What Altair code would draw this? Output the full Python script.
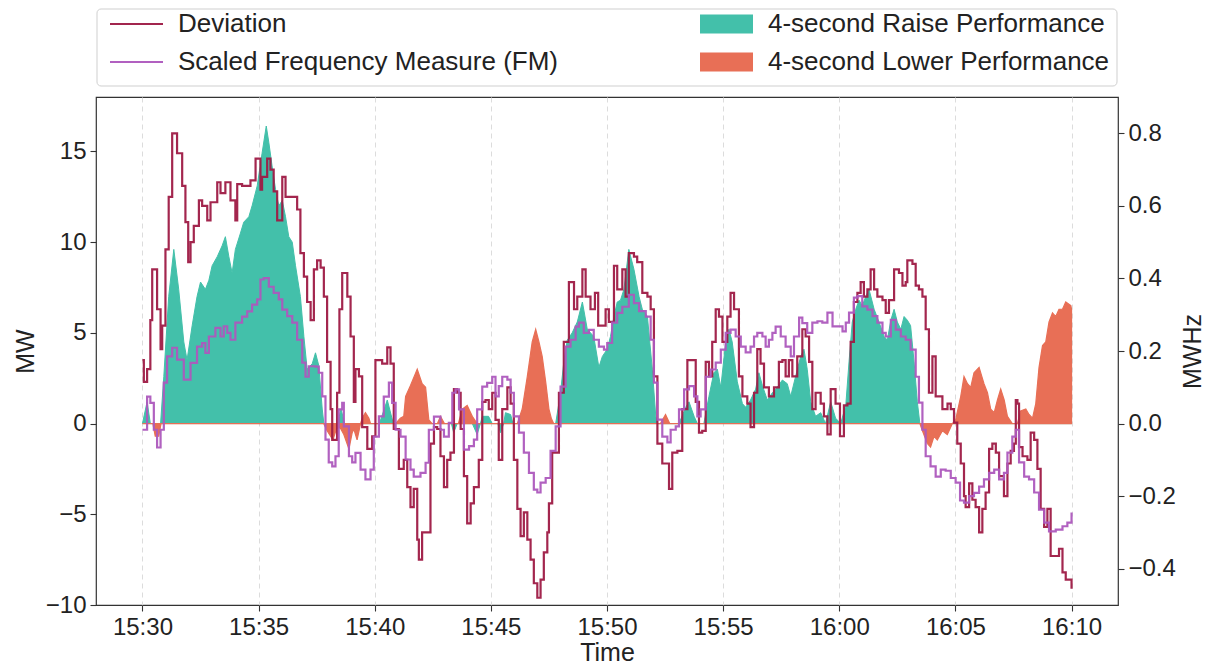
import altair as alt
import pandas as pd

# ---------------- data (minutes after 15:30) ----------------
dev_t = [0.0, 0.06, 0.2, 0.34, 0.42, 0.49, 0.63, 0.78, 0.85, 0.99, 1.13, 1.28, 1.42, 1.49, 1.71, 1.85,
         1.97, 2.07, 2.21, 2.43, 2.57, 2.79, 2.93, 3.22, 3.36, 3.57, 3.79, 4.0, 4.08, 4.29, 4.65, 4.87,
         5.08, 5.15, 5.37, 5.51, 5.65, 5.8, 6.02, 6.16, 6.45, 6.66, 6.8, 6.95, 7.09, 7.24, 7.38, 7.52,
         7.67, 7.81, 7.95, 8.1, 8.17, 8.31, 8.38, 8.48, 8.6, 8.67, 8.82, 8.96, 9.1, 9.17, 9.32, 9.46,
         9.68, 9.89, 10.03, 10.32, 10.54, 10.68, 10.82, 11.04, 11.25, 11.4, 11.54, 11.68, 11.83, 11.9,
         12.04, 12.23, 12.4, 12.55, 12.69, 12.83, 12.98, 13.12, 13.26, 13.41, 13.55, 13.7, 13.84, 13.98,
         14.13, 14.27, 14.48, 14.63, 14.77, 14.91, 15.06, 15.2, 15.34, 15.49, 15.71, 15.85, 15.99, 16.14,
         16.28, 16.42, 16.57, 16.71, 16.85, 17.0, 17.14, 17.28, 17.43, 17.5, 17.64, 17.79, 17.93, 18.14,
         18.36, 18.51, 18.58, 18.72, 18.94, 19.08, 19.29, 19.48, 19.62, 19.8, 19.94, 20.08, 20.3, 20.44,
         20.66, 20.8, 20.94, 21.16, 21.3, 21.52, 21.74, 21.88, 22.02, 22.17, 22.38, 22.67, 22.81, 23.03,
         23.24, 23.46, 23.67, 23.82, 23.96, 24.1, 24.25, 24.39, 24.53, 24.68, 24.82, 24.97, 25.18, 25.32,
         25.47, 25.68, 25.83, 26.04, 26.18, 26.33, 26.47, 26.61, 26.76, 26.97, 27.19, 27.4, 27.55, 27.69,
         27.83, 27.98, 28.19, 28.41, 28.55, 28.7, 28.84, 28.98, 29.2, 29.34, 29.49, 29.63, 29.84, 30.03,
         30.2, 30.35, 30.49, 30.63, 30.78, 30.92, 31.06, 31.21, 31.35, 31.5, 31.64, 31.86, 32.0, 32.14,
         32.36, 32.57, 32.72, 32.86, 32.93, 33.15, 33.29, 33.43, 33.58, 33.72, 33.86, 34.01, 34.15, 34.29,
         34.44, 34.66, 34.8, 34.94, 35.08, 35.23, 35.37, 35.44, 35.59, 35.73, 35.87, 36.02, 36.16, 36.3,
         36.45, 36.59, 36.74, 36.88, 37.09, 37.24, 37.38, 37.52, 37.6, 37.67, 37.74, 37.89, 38.1, 38.24,
         38.39, 38.53, 38.67, 38.82, 38.96, 39.1, 39.32, 39.46, 39.61, 39.75, 40.0]
dev_v = [3.5, 2.3, 3.0, 5.7, 8.5, 8.5, 6.3, 4.1, 5.4, 9.6, 12.5, 16.0, 16.0, 14.9, 13.1, 11.1,
         8.9, 10.0, 10.9, 12.3, 12.0, 11.2, 12.2, 13.3, 12.7, 13.3, 12.3, 11.2, 13.2, 13.1, 13.4, 14.6,
         12.9, 13.6, 14.6, 14.0, 12.8, 11.2, 13.6, 12.5, 12.5, 11.8, 9.4, 8.1, 6.7, 5.7, 8.5, 9.0,
         8.6, 7.0, 3.4, 0.8, -0.9, -0.9, 1.7, 6.3, 8.3, 8.3, 7.0, 4.8, 1.2, 3.0, 2.6, -0.2,
         -1.4, -0.7, 3.5, 3.3, 4.2, 3.3, -0.3, -2.5, -2.0, -3.5, -4.6, -3.6, -6.4, -7.5,
         -6.0, -6.0, -1.1, -0.2, -0.3, -1.8, -3.5, -2.0, -1.6, 1.9, 1.7, -0.3, -2.9, -5.5,
         -4.4, -3.5, -2.0, 1.2, 1.3, 0.8, 1.7, 0.2, -2.0, 0.8, 2.0, 1.1, -2.0, -4.7,
         -6.2, -4.9, -6.4, -7.5, -8.8, -9.6, -8.6, -7.1, -6.0, -4.4, -1.6, -1.6, 1.7, 4.5,
         7.8, 7.8, 6.3, 7.0, 8.5, 7.0, 6.3, 7.2, 5.4, 5.4, 6.3, 5.6, 8.7, 7.4,
         8.5, 7.0, 9.4, 9.2, 8.9, 7.2, 7.0, 6.3, 2.6, -1.1, -2.2, -3.6, -1.6, -1.5,
         0.8, 3.5, 3.5, 1.2, -0.5, -0.4, 3.4, 2.6, 4.5, 6.3, 5.9, 4.5, 5.9, 7.2,
         6.3, 2.6, 1.5, 1.1, -0.2, 1.7, 4.1, 3.3, 2.0, 1.5, 2.0, 3.4, 3.5, 2.6,
         3.5, 2.6, 3.7, 5.2, 4.8, 3.4, 0.8, 1.7, 1.1, 0.4, -0.6, 1.9, 1.1, -0.7,
         1.0, 1.1, 4.5, 6.7, 7.2, 7.8, 7.0, 7.4, 8.5, 7.4, 7.0, 6.8, 6.1, 6.8,
         8.5, 8.3, 7.6, 7.8, 9.0, 8.8, 7.6, 7.4, 7.0, 5.2, 1.7, 3.7, 1.5, 1.5,
         0.8, 1.1, 0.8, 0.05, -1.1, -2.2, -4.0, -4.6, -3.3, -4.2, -4.6, -6.0, -4.7, -3.8,
         -1.4, -1.1, -1.6, -2.9, -4.0, -2.2, -1.5, -1.1, 1.3, 1.1, -1.3, -1.8, -2.0, -0.5,
         -0.9, -2.5, -4.7, -5.7, -4.7, -7.3, -7.3, -6.9, -8.2, -8.6, -9.1]

fm_t = [0.0, 0.2, 0.34, 0.49, 0.63, 0.78, 0.92, 1.06, 1.28, 1.49, 1.78, 2.07, 2.35, 2.57, 2.71, 2.86,
        3.14, 3.36, 3.5, 3.65, 3.79, 4.0, 4.29, 4.51, 4.72, 4.94, 5.08, 5.22, 5.44, 5.65, 5.87, 6.02,
        6.23, 6.45, 6.66, 6.88, 7.02, 7.16, 7.45, 7.59, 7.74, 7.88, 8.02, 8.17, 8.31, 8.45, 8.6, 8.67,
        8.89, 9.03, 9.17, 9.39, 9.6, 9.82, 9.96, 10.18, 10.39, 10.61, 10.75, 10.9, 11.11, 11.33, 11.54,
        11.68, 11.97, 12.19, 12.33, 12.55, 12.69, 12.83, 12.98, 13.19, 13.34, 13.48, 13.63, 13.84, 14.06,
        14.27, 14.41, 14.63, 14.84, 15.06, 15.2, 15.34, 15.49, 15.71, 15.85, 15.99, 16.21, 16.42, 16.64,
        16.85, 17.0, 17.14, 17.36, 17.57, 17.79, 18.0, 18.22, 18.43, 18.65, 18.79, 19.0, 19.22, 19.43,
        19.65, 19.87, 20.01, 20.22, 20.44, 20.66, 20.94, 21.16, 21.38, 21.67, 21.88, 22.02, 22.17, 22.38,
        22.6, 22.74, 22.96, 23.1, 23.32, 23.53, 23.75, 23.89, 24.03, 24.25, 24.46, 24.68, 24.9, 25.11,
        25.32, 25.54, 25.76, 25.97, 26.18, 26.33, 26.47, 26.69, 26.83, 26.97, 27.12, 27.26, 27.48, 27.69,
        27.91, 28.05, 28.27, 28.41, 28.62, 28.84, 29.06, 29.27, 29.49, 29.71, 29.92, 30.14, 30.28, 30.42,
        30.63, 30.78, 30.99, 31.21, 31.43, 31.64, 31.86, 32.0, 32.22, 32.43, 32.65, 32.86, 33.07, 33.29,
        33.43, 33.58, 33.72, 33.93, 34.15, 34.37, 34.58, 34.8, 35.01, 35.2, 35.37, 35.59, 35.8, 36.02,
        36.23, 36.45, 36.67, 36.88, 37.09, 37.24, 37.45, 37.6, 37.74, 37.96, 38.17, 38.39, 38.6, 38.82,
        39.03, 39.32, 39.61, 39.82, 40.0]
fm_v = [-0.017, 0.074, 0.057, -0.017, -0.066, -0.017, 0.113, 0.185, 0.209, 0.176, 0.121, 0.167, 0.212,
        0.222, 0.195, 0.24, 0.264, 0.24, 0.268, 0.25, 0.231, 0.278, 0.295, 0.309, 0.328, 0.342, 0.397,
        0.401, 0.377, 0.36, 0.342, 0.314, 0.296, 0.278, 0.231, 0.168, 0.129, 0.158, 0.157, 0.14, 0.075,
        -0.044, -0.107, -0.118, -0.09, 0.039, 0.057, -0.008, -0.09, -0.107, -0.081, -0.127, -0.154,
        -0.127, -0.036, 0.02, 0.074, 0.113, 0.057, -0.017, -0.036, -0.099, -0.127, -0.146, -0.136,
        -0.108, -0.017, 0.019, 0.019, -0.017, -0.036, 0.002, 0.085, 0.094, 0.039, -0.072, -0.062,
        -0.044, 0.039, 0.102, 0.112, 0.129, 0.075, 0.103, 0.129, 0.121, 0.085, 0.02, -0.025, -0.08,
        -0.136, -0.182, -0.19, -0.163, -0.15, -0.075, -0.008, 0.102, 0.212, 0.231, 0.267, 0.278, 0.25,
        0.258, 0.231, 0.212, 0.204, 0.222, 0.278, 0.305, 0.322, 0.355, 0.332, 0.31, 0.295, 0.231, 0.113,
        0.011, -0.036, -0.052, -0.017, -0.008, 0.039, 0.094, 0.103, 0.075, 0.02, 0.039, 0.129, 0.149,
        0.168, 0.204, 0.25, 0.259, 0.24, 0.212, 0.196, 0.212, 0.24, 0.25, 0.24, 0.212, 0.231, 0.25,
        0.267, 0.24, 0.212, 0.185, 0.24, 0.292, 0.277, 0.25, 0.278, 0.282, 0.278, 0.306, 0.268, 0.268,
        0.254, 0.278, 0.306, 0.347, 0.351, 0.323, 0.314, 0.296, 0.278, 0.25, 0.24, 0.286, 0.259, 0.24,
        0.231, 0.204, 0.129, 0.058, -0.017, -0.09, -0.118, -0.146, -0.127, -0.13, -0.15, -0.163, -0.212,
        -0.218, -0.2, -0.191, -0.174, -0.154, -0.136, -0.127, -0.154, -0.136, -0.08, -0.036, -0.017,
        -0.107, -0.146, -0.154, -0.19, -0.237, -0.273, -0.297, -0.292, -0.283, -0.273, -0.245]

raise_t = [0.0, 0.2, 0.34, 0.78, 0.92, 1.13, 1.35, 1.56, 1.78, 1.92, 2.14, 2.35, 2.5, 2.71, 2.86, 3.0,
           3.22, 3.43, 3.57, 3.72, 3.86, 4.0, 4.22, 4.36, 4.58, 4.72, 4.94, 5.15, 5.33, 5.44, 5.58, 5.73,
           5.87, 6.02, 6.16, 6.3, 6.45, 6.59, 6.8, 6.95, 7.09, 7.31, 7.45, 7.59, 7.74, 7.81, 8.4, 8.55,
           8.7, 10.2, 10.54, 10.8, 13.3, 13.4, 13.55, 14.2, 14.41, 14.55, 14.63, 14.9, 15.06, 15.3, 15.42,
           15.55, 15.63, 15.85, 15.95, 17.79, 18.0, 18.15, 18.29, 18.5, 18.72, 18.94, 19.15, 19.43, 19.65,
           19.8, 20.01, 20.15, 20.3, 20.44, 20.58, 20.73, 20.94, 21.16, 21.38, 21.52, 21.74, 21.95, 22.1,
           22.17, 23.1, 23.39, 23.53, 23.75, 23.89, 24.17, 24.39, 24.6, 24.75, 24.9, 25.11, 25.25, 25.39,
           25.61, 25.83, 25.97, 26.18, 26.4, 26.54, 26.69, 26.9, 27.12, 27.33, 27.55, 27.76, 27.91, 28.12,
           28.34, 28.48, 28.62, 28.77, 28.98, 29.2, 29.41, 29.63, 29.84, 30.06, 30.28, 30.42, 30.56, 30.71,
           30.85, 30.99, 31.14, 31.28, 31.5, 31.71, 31.93, 32.07, 32.22, 32.36, 32.5, 32.65, 32.79, 32.93,
           33.07, 33.22, 33.36, 33.47, 40.0]
raise_v = [0.0, 1.2, 0.0, 0.0, 2.6, 7.0, 9.6, 7.4, 4.5, 3.5, 5.4, 7.0, 7.8, 7.4, 7.9, 8.7,
           9.2, 9.8, 10.3, 9.2, 8.3, 9.6, 10.5, 11.1, 11.4, 12.0, 13.1, 14.9, 16.4, 15.5, 14.2, 12.9,
           12.0, 12.3, 11.4, 10.3, 10.0, 8.7, 7.0, 4.8, 3.0, 3.3, 3.9, 3.2, 0.8, 0.0, 0.0, 0.8,
           0.0, 0.0, 1.3, 0.0, 0.0, -0.5, 0.0, 0.0, -0.6, 0.0, 0.4, 0.4, 0.0, 0.0, -0.5,
           0.0, 0.6, 0.5, 0.0, 0.0, 1.7, 3.5, 4.6, 5.0, 5.6, 6.7, 5.2, 4.8, 3.1,
           3.7, 4.1, 4.8, 5.9, 6.7, 6.8, 7.4, 9.6, 8.5, 7.0, 6.3, 5.9, 3.0, 0.4,
           0.0, 0.0, 0.9, 1.2, 0.4, 0.0, 0.0, 1.5, 2.8, 3.0, 2.0, 4.5, 5.2, 4.5,
           2.3, 1.1, 0.9, 1.3, 1.9, 2.8, 2.1, 1.3, 1.7, 2.0, 2.4, 2.2, 1.5, 2.6,
           3.7, 4.1, 3.0, 1.2, 0.4, 0.6, 0.0, 1.2, 0.3, 0.0, 1.0, 3.4, 5.6, 6.3,
           6.8, 6.5, 7.0, 7.4, 6.3, 5.6, 4.8, 4.6, 5.7, 6.3, 5.6, 5.2, 5.9, 5.7,
           5.4, 3.4, 1.2, 0.0, 0.0]

lower_t = [0.0, 0.45, 0.55, 0.7, 0.8, 7.8, 7.95, 8.2, 8.35, 8.5, 8.67, 8.89, 9.03, 9.1, 9.24, 9.39,
           9.46, 9.6, 9.75, 9.82, 10.9, 11.1, 11.25, 11.33, 11.54, 11.83, 12.04, 12.19, 12.33, 12.47,
           12.7, 12.83, 13.0, 13.6, 13.77, 13.98, 14.2, 14.41, 16.14, 16.35, 16.57, 16.78, 16.93, 17.07,
           17.21, 17.36, 17.5, 17.6, 17.7, 22.3, 22.52, 22.7, 33.47, 33.58, 33.79, 33.93, 34.08, 34.22,
           34.44, 34.65, 34.87, 35.01, 35.23, 35.37, 35.52, 35.66, 35.8, 36.02, 36.23, 36.38, 36.52, 36.67,
           36.81, 36.95, 37.1, 37.24, 37.45, 37.67, 37.81, 38.03, 38.17, 38.32, 38.46, 38.6, 38.75, 38.89,
           39.03, 39.18, 39.32, 39.46, 39.61, 39.75, 39.97, 40.0]
lower_v = [0.0, 0.0, -0.7, -0.7, 0.0, 0.0, -0.4, -0.9, -0.3, -0.2, -0.6, -1.4, -0.5, -0.3, -0.9, 0.0,
           0.3, 0.6, 0.3, 0.0, 0.0, 0.3, 0.4, 1.5, 2.1, 3.0, 2.2, 2.0, 0.2, 0.0,
           0.0, 0.4, 0.0, 0.0, 0.8, 1.0, 0.4, 0.0, 0.0, 0.8, 2.6, 4.5, 5.2, 4.5,
           3.7, 2.3, 0.8, 0.3, 0.0, 0.0, 0.5, 0.0, 0.0, -0.4, -1.1, -1.3, -0.7, -0.9,
           -0.4, -0.6, 0.0, 0.2, 1.5, 2.6, 2.2, 2.0, 2.8, 3.1, 2.2, 1.7, 0.8, 0.6,
           1.3, 1.9, 1.3, 0.4, 0.0, 0.0, 0.7, 0.8, 0.5, 0.3, 1.1, 3.1, 4.3, 4.5,
           5.6, 6.1, 5.9, 6.3, 6.3, 6.7, 6.5, 6.3]

x_ticks = [0, 5, 10, 15, 20, 25, 30, 35, 40]
x_tick_labels = ["15:30", "15:35", "15:40", "15:45", "15:50", "15:55", "16:00", "16:05", "16:10"]
left_ticks = [-10, -5, 0, 5, 10, 15]
right_ticks = [-0.4, -0.2, 0.0, 0.2, 0.4, 0.6, 0.8]

DEV = "Deviation"
FM = "Scaled Frequency Measure (FM)"
RAISE = "4-second Raise Performance"
LOWER = "4-second Lower Performance"

C_DEV = "#9e1a45"
C_FM = "#ad58bd"
C_RAISE = "#43c0aa"
C_LOWER = "#e86f56"

dev_df = pd.DataFrame({"t": dev_t, "v": dev_v, "series": DEV})
fm_df = pd.DataFrame({"t": fm_t, "v": fm_v, "series": FM})
raise_df = pd.DataFrame({"t": raise_t, "v": raise_v, "series": RAISE})
lower_df = pd.DataFrame({"t": lower_t, "v": lower_v, "series": LOWER})

FONT = "Liberation Sans"
W, H = 1022, 508
TICK_FS = 24
TITLE_FS = 25
LEG_FS = 26

label_expr = "[" + ",".join("'%s'" % s for s in x_tick_labels) + "][round(datum.value / 5)]"

x_enc = alt.X(
    "t:Q",
    scale=alt.Scale(domain=[-2, 42], nice=False, zero=False),
    axis=alt.Axis(values=x_ticks, labelExpr=label_expr, title="Time", grid=True,
                  gridDash=[5, 4], gridColor="#dcdcdc", gridWidth=1,
                  titleX=W / 2, titleY=47, titleBaseline="middle"),
)

y_left = alt.Y(
    "v:Q",
    scale=alt.Scale(domain=[-10, 18], nice=False, zero=False),
    axis=alt.Axis(values=left_ticks, title="MW", grid=False, orient="left",
                  titleX=-71, titleY=H / 2, titleAngle=-90, titleAlign="center",
                  titleBaseline="middle"),
)

y_right = alt.Y(
    "v:Q",
    scale=alt.Scale(domain=[-0.5, 0.9], nice=False, zero=False),
    axis=alt.Axis(values=right_ticks, format=".1f", title="MWHz", grid=False, orient="right",
                  titleX=74, titleY=H / 2, titleAngle=-90, titleAlign="center",
                  titleBaseline="middle"),
)

line_path = "M-2.65,0H2.65"
rect_path = "M-2.65,-0.95H2.65V0.95H-2.65Z"

stroke_enc = alt.Stroke(
    "series:N",
    scale=alt.Scale(domain=[DEV, FM], range=[C_DEV, C_FM]),
    legend=alt.Legend(title=None, orient="none", legendX=27.5, legendY=-86, direction="vertical",
                      symbolType=line_path, symbolSize=400, symbolStrokeWidth=2,
                      labelFontSize=LEG_FS, labelFont=FONT, labelColor="#222222",
                      labelOffset=28.5, rowPadding=12, padding=0, labelLimit=0),
)

fill_enc = alt.Fill(
    "series:N",
    scale=alt.Scale(domain=[RAISE, LOWER], range=[C_RAISE, C_LOWER]),
    legend=alt.Legend(title=None, orient="none", legendX=617.5, legendY=-86, direction="vertical",
                      symbolType=rect_path, symbolSize=400, symbolStrokeWidth=0, symbolOpacity=1,
                      labelFontSize=LEG_FS, labelFont=FONT, labelColor="#222222",
                      labelOffset=28.5, rowPadding=12, padding=0, labelLimit=0),
)

legend_box = alt.Chart(pd.DataFrame({"k": [0]})).mark_rect(
    fill="white", stroke="#cfcfcf", strokeWidth=1, cornerRadius=4
).encode(x=alt.value(1), x2=alt.value(W - 1), y=alt.value(-88), y2=alt.value(-11))

raise_area = alt.Chart(raise_df).mark_area(
    stroke=C_RAISE, strokeWidth=1, fillOpacity=1
).encode(x=x_enc, y=y_left, y2=alt.datum(0), fill=fill_enc)

lower_area = alt.Chart(lower_df).mark_area(
    stroke=C_LOWER, strokeWidth=1.2, fillOpacity=1
).encode(x=x_enc, y=y_left, y2=alt.datum(0), fill=fill_enc)

dev_line = alt.Chart(dev_df).mark_line(
    interpolate="step-after", strokeWidth=2.2, opacity=0.95
).encode(x=x_enc, y=y_left, stroke=stroke_enc)

fm_line = alt.Chart(fm_df).mark_line(
    interpolate="step-after", strokeWidth=2.2, opacity=0.95
).encode(x=x_enc, y=y_right, stroke=stroke_enc)

left = alt.layer(legend_box, raise_area, lower_area, dev_line)

chart = alt.layer(left, fm_line).resolve_scale(y="independent").properties(
    width=W, height=H,
    autosize=alt.AutoSizeParams(type="none"),
    padding={"left": 88, "top": 89, "right": 88, "bottom": 63},
).configure(font=FONT).configure_view(
    stroke="#333333", strokeWidth=1.2
).configure_axis(
    labelFont=FONT, labelFontSize=TICK_FS, labelColor="#222222",
    titleFont=FONT, titleFontSize=TITLE_FS, titleFontWeight="normal", titleColor="#222222",
    tickColor="#333333", tickSize=6, tickWidth=1.1, labelPadding=4, domain=False,
)

chart.save("out.html", embed_options={"renderer": "svg", "actions": False})
